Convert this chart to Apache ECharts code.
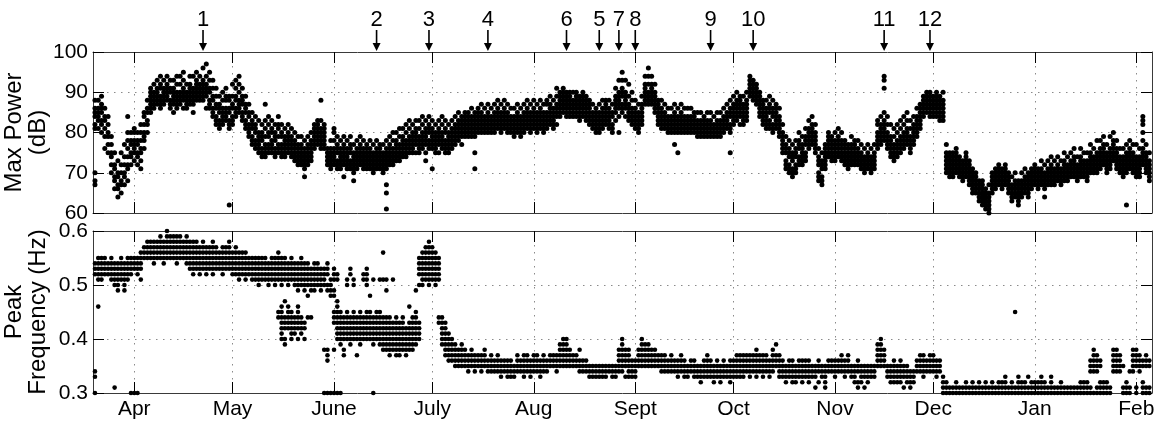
<!DOCTYPE html>
<html>
<head>
<meta charset="utf-8">
<script src="https://cdn.jsdelivr.net/npm/echarts@6/dist/echarts.min.js"></script>
<style>html,body{margin:0;padding:0;background:#fff;}#chart{width:1166px;height:421px;}</style>
</head>
<body>
<div id="chart"></div>
<script>
// x values are days since 1 April
const monthTickDays = [0, 30, 61, 91, 122, 153, 183, 214, 244, 275, 306];
const monthTickLabels = ['Apr', 'May', 'June', 'July', 'Aug', 'Sept', 'Oct', 'Nov', 'Dec', 'Jan', 'Feb'];
const powerTicks = [60, 70, 80, 90, 100];
const freqTicks = [0.3, 0.4, 0.5, 0.6];

const eventDays = [21, 74, 90, 108, 132, 142, 148, 153, 176, 189, 229, 243];
const eventLabels = ['1', '2', '3', '4', '6', '5', '7', '8', '9', '10', '11', '12'];

// first data day of each monthly block (days since 1 April)
const blockStartDays = [-12, 0, 30, 61, 91, 122, 153, 183, 214, 244, 275, 306];

// Max Power (dB): one list of readings per day
const powerMar = [[81,82,84,85,86,88,70,68,67],[81,83,84,85,86,88],[80,82,83,85,86,87,89],[79,81,83,84,86,76],[75,77,79,80,82,84],[70,72,74,75,77,79],[66,68,69,71,72,75],[64,66,67,69,70,73],[65,67,68,70,72,75],[67,69,70,72,74,77],[68,71,72,74,76,78,80,84],[72,74,75,77,78,80]];
const powerApr = [[73,75,76,77,78,80,81],[72,74,75,77,78,80],[71,73,75,76,78,80,82],[76,78,79,80,82,84,85],[80,82,83,85,86,88],[85,86,87,88,89,90,91],[86,87,88,89,90,92],[87,88,89,90,91,93],[86,87,88,89,91,92,94],[87,88,89,90,91,93],[88,89,90,91,92,94],[86,87,88,90,91,93],[85,87,88,89,90,91,93],[86,87,88,89,90,92,94],[87,88,89,90,92,94],[86,88,89,90,91,93,95],[86,87,88,89,90,92],[87,88,89,90,91,92,94],[85,87,88,89,90,91,94],[88,89,90,91,92,93,95],[88,89,90,91,92,94],[88,89,90,91,92,93,96],[86,89,90,91,92,94,97],[86,87,88,90,91,93,95],[84,85,86,88,89,91,93],[82,83,84,86,87,89,91],[81,82,83,85,86,87,89],[82,83,84,85,86,88,90],[83,84,85,86,88,89,91],[81,82,83,85,86,88,89,62]];
const powerMay = [[82,83,84,86,87,89,92],[84,85,86,88,89,91,93],[85,86,87,88,90,92,94],[83,84,85,87,88,89,91],[81,82,83,85,86,87,89],[79,80,81,82,84,85,87],[77,78,79,81,82,83,85],[76,77,78,80,81,82,84],[75,76,77,78,79,80,83],[74,75,76,78,79,80,82],[74,75,76,77,79,81,83,87],[75,76,77,79,80,82,84],[75,76,77,78,80,81,83],[74,75,76,78,79,80,82],[75,76,77,79,81,82,84],[74,75,76,77,79,80,82],[74,75,76,77,78,79,81],[75,76,77,78,79,80,82],[74,75,76,77,78,79,81],[73,74,75,76,77,78,80],[72,73,74,75,76,77,79],[72,73,74,75,76,77,79],[71,72,73,74,75,76,78,69],[72,73,74,75,76,77,79],[73,74,75,76,77,78,80],[76,77,78,79,80,81,82],[77,78,79,80,81,82,83],[76,77,78,79,80,81,83,88],[76,77,78,79,80,81,82],[72,73,74,75,76],[71,72,73,74,75,76,78]];
const powerJun = [[72,73,74,75,76,78,80,81],[71,72,73,75,76,77,79],[71,72,73,74,75,76,78],[72,73,74,75,76,77,79,69],[71,72,73,74,75,76,78],[71,72,73,75,76,77,79],[70,71,72,73,74,75,77,68],[71,72,73,74,75,76,78],[72,73,74,75,76,77,79],[71,72,73,74,75,76,78],[71,72,73,74,75,76,77],[71,72,73,74,75,76,78],[70,71,72,73,74,75,77],[71,72,73,74,75,76,78],[71,72,73,74,75,76,77],[70,71,72,73,74,75,77],[71,72,73,74,75,76,78,67,65,61],[72,73,74,75,76,77,79],[72,73,74,75,76,78,80],[73,74,75,76,77,78,80],[73,74,75,76,77,79,81],[74,75,76,77,78,79,81],[74,75,76,77,78,80,82],[75,76,77,78,79,81,83],[75,76,77,78,79,80,82],[75,77,78,79,80,81,83],[75,76,77,78,79,81,83],[76,77,78,79,80,82,84],[75,77,78,79,80,81,83,73],[76,77,78,80,81,82,84]];
const powerJul = [[76,77,78,79,80,81,83,71],[75,76,77,78,79,80,82],[75,77,78,79,80,81,83],[76,77,78,79,80,82,84],[75,76,77,78,80,81,83],[75,76,77,78,79,80,82],[76,77,78,79,80,81,83],[77,78,79,80,81,82,84],[78,79,80,81,82,83,85],[77,79,80,81,82,83,84],[79,80,81,82,83,84,85],[79,80,81,82,83,84,85],[79,80,81,82,83,84,86],[79,80,81,82,83,84,85,75,71],[80,81,82,83,84,85,86],[80,81,82,83,84,85,87],[80,81,82,83,84,86],[80,81,82,83,84,85,87],[80,81,82,83,84,86],[80,81,82,83,84,85,87],[81,82,83,84,85,86,88],[80,81,82,83,84,85,87],[81,82,83,84,85,86,88],[80,81,82,83,84,85,87],[80,81,82,83,84,86],[79,80,81,82,83,84,86],[80,81,82,83,84,85,87],[79,80,81,82,83,84,86],[80,81,82,83,84,85,87],[81,82,83,84,85,86,88],[80,81,82,83,84,85,87]];
const powerAug = [[81,82,83,84,85,86,88],[80,81,82,83,84,85,87],[81,82,83,84,85,86,88],[80,81,82,83,84,85,87],[81,82,83,84,85,87,88],[82,83,84,85,86,87,89],[81,82,83,84,85,86,88],[82,84,85,86,87,89,91],[84,85,86,87,88,89,90],[85,86,87,88,89,90,91],[84,85,86,87,88,89,90],[84,85,86,87,88,89,90],[84,85,86,87,88,90],[84,85,86,87,88,89,90],[83,84,85,86,87,88,89],[84,85,86,87,88,89,90],[83,84,85,86,87,88,89],[82,83,84,85,86,87,88],[81,82,83,84,85,87],[80,81,82,83,84,85,86],[80,81,82,83,84,85,87],[81,82,83,84,85,86,88],[82,83,84,85,86,87,88],[81,82,83,84,85,86,88],[80,81,82,84,85,87],[83,85,86,87,88,89,91],[84,86,87,88,89,90,93,80],[85,86,87,89,90,91,93,95],[84,86,87,88,89,90,93],[83,84,85,86,87,89,92],[82,83,84,85,86,88,90]];
const powerSep = [[81,82,83,84,85,86,88],[80,81,82,83,84,85,87],[82,83,84,85,86,87,89],[87,88,89,90,91,92,94],[87,88,89,90,92,94,96],[87,88,89,90,91,92,94],[85,86,87,88,89,90,92],[82,83,84,85,86,87,88],[81,82,83,84,85,86,88],[81,82,83,84,85,87],[80,81,82,83,84,86],[80,81,82,83,84,86],[80,81,82,83,84,85,87,77],[80,81,82,83,84,86,75],[80,81,82,83,84,85,87],[80,81,82,83,84,86],[80,81,82,83,84,86],[80,81,82,83,84,86],[80,81,82,83,84,85],[79,80,81,82,83,85],[79,80,81,82,83,85],[79,80,81,82,83,84],[79,80,81,82,83,85],[79,80,81,82,83,85],[79,80,81,82,84],[79,80,81,82,83,85],[79,80,81,82,83,85],[80,81,82,83,84,86],[81,82,83,84,85,87],[80,81,82,84,85,86,88,75]];
const powerOct = [[82,83,84,85,86,87,89],[83,84,85,86,87,88,90],[82,84,85,86,87,88,89],[82,83,84,85,86,87,89],[83,84,85,86,87,88,90],[89,90,91,92,93,94],[88,89,90,91,92,93],[87,88,89,90,91,92],[84,85,86,87,88,89,90],[82,83,84,85,86,87,88],[81,82,83,84,85,86,88],[81,82,83,85,86,87,89],[80,81,82,84,85,86,88],[81,82,83,84,85,86,87],[79,80,81,82,83,84,86],[75,76,77,78,79,80,82],[71,72,73,75,76,77,79],[70,71,72,74,75,76,78],[69,70,71,73,74,75,77],[70,71,72,74,75,76,78],[72,73,74,76,77,78,80],[72,73,74,75,76,77,79],[73,74,75,77,78,79,81],[76,77,78,79,80,81,83],[77,78,79,80,81,82,84],[75,76,77,78,79,80,82],[68,69,70,72,73,74,76],[67,68,69,71,72,73,75],[71,72,73,74,75,76,77],[74,75,76,77,78,79,80],[73,74,75,76,77,78,79]];
const powerNov = [[73,74,75,76,77,78,80],[74,75,76,77,78,79,81],[73,74,75,76,77,78,80],[72,73,74,75,76,77,78],[71,72,73,74,75,76,77],[72,73,74,75,76,77,79],[72,73,74,75,76,77,78],[72,73,74,75,76,78],[71,72,73,74,75,77],[70,71,72,73,74,76],[71,72,73,74,75,77],[70,71,72,73,74,76],[71,72,73,74,75,77],[76,77,78,79,80,82,83],[77,78,79,80,81,82,84],[78,79,80,81,82,83,85,91,93,94],[76,77,78,79,80,82,84],[74,75,76,77,78,79,82],[73,74,75,76,77,79,81],[74,75,76,77,78,80,82],[75,76,77,78,79,81,83],[76,77,78,79,80,82,84],[77,78,79,80,81,83,85],[75,76,77,78,79,81,83],[77,78,79,80,81,82,84],[79,80,81,82,83,84,86],[81,82,83,84,85,86,87],[84,85,86,87,88,89],[85,86,87,88,89,90],[84,85,86,87,88,89,90]];
const powerDec = [[84,85,86,87,88,89],[84,85,86,87,88,89,90],[83,84,85,86,87,88,89],[83,84,85,86,87,88,90],[70,71,72,73,74,75,77],[69,70,71,72,73,74,75],[69,70,71,72,73,74,75],[70,71,72,73,74,75,76],[69,70,71,72,73,74],[68,69,70,71,72,73],[69,70,71,72,73,74,75],[67,68,69,70,71,72,73],[65,66,67,68,69,70,71],[65,66,67,68,69,70],[63,64,65,66,67,68],[62,63,64,65,66,67,68],[61,62,63,64,65,66],[60,61,62,63,64,65,67],[65,66,67,68,69,70],[66,67,68,69,70,71],[67,68,69,70,71,72],[66,67,68,69,70,71],[67,68,69,70,71,72],[65,66,67,68,69,70],[63,64,65,66,67,69],[64,65,66,67,68,70],[62,63,64,65,66,67,68],[64,65,66,67,68,70],[65,66,67,68,69,71],[64,65,66,67,68,69,70],[66,67,68,69,70,71]];
const powerJan = [[67,68,69,70,71,72],[66,67,68,69,70,71],[67,68,69,70,71,73],[66,67,68,69,70,72,64],[67,68,69,70,71,73],[67,68,69,70,71,72,74],[67,68,69,70,71,73],[68,69,70,71,72,74],[67,68,69,70,71,73],[68,69,70,71,72,73,75],[68,69,70,71,72,74],[69,70,71,72,73,75],[69,70,71,72,73,74,76],[68,69,70,71,72,74],[69,70,71,72,73,74,76],[69,70,71,72,73,75],[68,69,70,71,72,73,75],[70,71,72,73,74,75,77],[70,71,72,73,74,76],[70,71,72,73,74,75,78],[71,72,73,74,75,76,78],[72,73,74,75,76,77,79],[70,71,72,73,74,75,77],[71,72,73,74,75,76,79],[73,74,75,76,77,78,80],[71,72,73,74,75,76,78],[70,71,72,73,74,76],[69,70,71,72,73,74,76],[70,71,72,73,74,75,77,62],[71,72,73,74,75,76,78],[70,71,72,73,74,75,77]];
const powerFeb = [[69,70,71,72,73,74,77],[69,70,71,72,73,74,76],[72,73,74,75,76,78,80,82,83,84],[70,71,72,73,74,75,77],[68,69,70,71,72,73,75]];

// Peak Frequency, in hundredths of a Hz: levels present each day
const freqMar = [[30,33,34,52,53,54],[51,52,53,54,55,46],[51,52,53,54,55],[52,53,54,55],[52,53,54],[51,52,53,54,55],[50,51,52,53,54,31],[49,50,51,52,53,54],[51,52,53,54,55],[49,50,51,52,53,54],[51,52,53,54,55],[52,53,54,55,30]];
const freqApr = [[53,54,55,30],[52,53,54,55,30],[51,53,54,55,56],[55,56,57],[55,56,57,58],[55,56,57,58],[54,55,56,57,58],[55,56,57,58],[55,56,57,58,59],[54,55,56,57,58],[55,56,57,58,59,60],[55,56,57,58,59],[55,56,57,58,59],[54,55,56,57,58,59],[55,56,57,58,59],[55,56,57,58],[54,55,56,57,58,59],[53,54,55,56,57,58],[52,53,54,55,56,57,58],[53,54,55,56,57,58],[52,53,54,55,56,57],[53,54,55,56,57,58],[52,53,54,55,56,57],[53,54,55,56,57],[52,53,54,55,56,57,58],[53,54,55,56,57],[53,54,55,56],[52,53,54,55,56,57],[53,54,55,56,57],[53,54,55,56,57,58]];
const freqMay = [[52,53,54,55,56],[52,53,54,55,56,57],[51,52,53,54,55,56],[52,53,54,55,56],[51,52,53,54,55,56],[52,53,54,55],[51,52,53,54,55],[51,52,53,54,55],[50,51,52,53,54,55],[51,52,53,54,55],[51,52,53,54,55],[50,51,52,53,54],[51,52,53,54,55],[50,51,52,53,54,55],[51,52,53,54,55,56,44,45],[50,51,52,53,54,55,40,41,42,43,44,45,46],[51,52,53,54,55,39,40,42,43,44,47],[50,51,52,53,54,42,43,44,45,46],[51,52,53,54,55,40,41,42,43,44,45],[50,51,52,53,54,41,42,43,44],[49,50,51,52,53,54,40,42,43,44,45,46],[50,51,52,53,54,55,41,42,43,44],[49,50,51,52,53,54,40,42,43],[48,50,51,52,53,54,44],[49,50,51,52,53,44],[49,50,51,52,53,54],[50,51,52,53,54],[49,50,51,52,53],[50,51,52,53,38,30],[49,50,52,53,54,36,37,38,30],[48,49,50,51,30]];
const freqJun = [[48,49,51,52,53,38,43,44,45,30],[51,52,40,41,42,43,44,45,46,47,30],[39,40,41,42,43,44,45,30],[40,41,42,43,44,38,37],[50,51,40,41,42,43,44,45],[52,53,39,40,41,42,43,44],[50,51,40,41,42,43,44,45],[40,41,42,43,44,37],[39,40,41,42,43,44,45],[51,52,40,41,42,43,44],[50,51,52,53,40,41,42,43,44,45],[40,41,42,43,44,45,48],[51,39,40,41,42,43,44,30],[40,41,42,43,44,45],[51,39,40,41,42,43,44,45],[51,56,38,39,40,41,42,43,44],[51,49,38,39,40,41,42,43,44],[37,38,39,40,41,42,43,44],[51,38,39,40,41,42,43],[37,38,39,40,41,42,43,44],[37,38,39,40,41,42,43],[38,39,40,41,42,43,44],[37,38,39,40,41,42],[38,39,40,41,42,43,46],[38,39,40,41,42,43,44],[39,40,41,42,43,44,45,49],[50,52,53,54,55,40,41,42,43],[50,51,52,53,54,55,56],[51,52,53,54,55,56,57],[50,51,52,53,54,55,56,57,58]];
const freqJul = [[51,52,53,54,55,56,57],[50,51,52,53,54,55,56],[51,52,53,54,55,44,43],[39,40,41,42,43,44],[37,38,39,40,41,42,43],[36,37,38,39,40,41],[36,37,38,39,40],[35,36,37,38,39],[35,36,37,38],[35,36,37,38,39],[35,36,37,38],[34,35,36,37],[35,36,37,38],[34,35,36,37],[35,36,37],[34,35,36,37],[35,36,37,38],[34,35,36],[34,35,36,37],[34,35,36],[34,35,36,37],[33,34,35,36],[34,35,36],[33,34,35,36],[33,34,35,36],[33,34,35],[34,35,36,37],[34,35,36],[33,34,35,36,37],[34,35,36,37],[33,34,35,36]];
const freqAug = [[34,35,36,37],[34,35,36,37],[33,34,35,36],[34,35,36,37],[34,35,36],[35,36,37],[35,36,37],[34,35,36,37],[35,36,37,38,39],[35,36,37,38,39,40],[35,36,37,38,39,40],[35,36,37,38],[35,36,37],[35,36,37],[34,35,36,38],[34,35,36],[34,35,36],[33,34,35],[33,34,35],[33,34,35],[33,34,35],[33,34,35],[33,34,35],[34,35],[33,34,35],[33,34,35],[34,35,36,37,38],[34,35,36,37,38,39,40],[33,35,36,37,38],[33,34,35,36,37,38],[33,34,35,36]];
const freqSep = [[33,34,35,36],[35,36,37,38],[35,36,37,38,39,40],[35,36,37,38,39],[35,36,37,38,39],[35,36,37,38],[35,36,37,38],[35,36,37],[34,35,36,37],[34,35,36,37],[34,35,36],[34,35,36,37],[34,35,36],[33,34,35,36],[34,35,36,37],[33,34,35,36],[33,34,35],[34,35,36],[33,34,35,36],[33,34,35],[32,33,34,35],[33,34,35,36],[33,34,35,36,37],[33,34,35,36],[32,33,34,35],[33,34,35,36],[32,33,34,35],[33,34,35,36],[33,34,35],[32,33,34,35,36]];
const freqOct = [[33,34,35,36],[33,34,35,36,37],[33,34,35,36,37],[33,34,35,36,37],[34,35,36,37],[33,34,35,36,37],[34,35,36,37],[33,34,35,36,37,38],[34,35,36,37],[33,34,35,36,37],[34,35,36,37],[33,34,35,36],[34,35,36,37,38],[35,36,37,39],[33,34,35,36,37],[33,34,35,36],[32,33,34,35],[33,34,35,36],[32,33,34,35,36],[32,33,34,35],[33,34,35,36],[32,33,34,35,36],[33,34,35,36],[32,33,34,35,36],[33,34,35],[33,34,35,31],[34,35,36,32],[34,35,33],[33,34,35,32,31],[34,35,36],[34,35,36]];
const freqNov = [[33,34,35,36],[34,35,36],[34,35,36,37],[33,34,35,36],[34,35,36,37],[33,34,35],[33,34,35,32],[34,35,36,32,31],[33,34,35,32],[33,34,35,31],[34,35,33,32],[34,35,33],[33,34,35],[35,36,37,38,39],[35,36,37,38,39,40],[35,36,37,38],[33,34,35],[33,34,35,32],[32,33,34,35,36],[33,34,35,32],[32,33,34,35,36],[33,34,35,31],[33,34,35,32],[32,33,34,31],[32,33,34],[34,35,36],[34,35,36,37],[33,34,35,36,37],[34,35,36],[34,35,36,37]];
const freqDec = [[34,35,36,37],[34,35,36,33],[34,35,36],[30,31,32,33],[30,31,32],[30,31],[30,31],[30,31,32],[30,31],[30,31],[30,31,32],[30,31],[30,31,32],[30,31],[30,31,32],[30,31],[30,31,32],[30,31],[30,31,32],[30,31],[30,31,32],[30,31,32],[30,31,32,33],[30,31],[30,31,32],[30,31,45],[30,31,32,33],[30,31,32],[30,31,32],[30,31,33],[30,31,32]];
const freqJan = [[30,31,32],[30,31,32],[30,31,32,33],[30,31,32],[30,31],[30,31,32,33],[30,31],[30,31],[30,31,32],[30,31],[30,31],[30,31],[30,31],[30,31],[30,31,32],[30,31,32],[30,31,32],[30,31,34,35,36],[30,34,35,36,37,38],[30,31,34,35,36,37],[30,31,32,35,36],[30,31,32],[30,31,32],[30,31],[34,35,36,37,38],[34,35,36,37,38],[34,35,36,37],[30,31,35],[30,31,32],[30,31,34],[34,35,36,37,38]];
const freqFeb = [[30,31,35,36,37,38],[34,35,36,37],[30,31,32,35,36],[30,31,35,36,37],[30,31,35,36]];

const powerBlocks = [powerMar, powerApr, powerMay, powerJun, powerJul, powerAug, powerSep, powerOct, powerNov, powerDec, powerJan, powerFeb];
const freqBlocks = [freqMar, freqApr, freqMay, freqJun, freqJul, freqAug, freqSep, freqOct, freqNov, freqDec, freqJan, freqFeb];

function toPoints(blocks, scale) {
  const out = [];
  blocks.forEach((block, b) => {
    block.forEach((vals, i) => {
      vals.forEach(v => out.push([blockStartDays[b] + i, v / scale]));
    });
  });
  return out;
}

const FONT = "'Liberation Sans', Arial, Helvetica, sans-serif";
const X_MIN = -12.6, X_MAX = 310.8;
const frameColor = '#3a3a3a';
const gridLine = { show: true, lineStyle: { color: '#8a8a8a', width: 1, type: [1.5, 5.5] } };

function xAxis(grid, pos, showLabels, showSplit) {
  return {
    type: 'value', gridIndex: grid, position: pos, min: X_MIN, max: X_MAX,
    axisLine: { show: true, onZero: false, lineStyle: { color: frameColor, width: 1 } },
    axisTick: { show: true, inside: true, length: 11, customValues: monthTickDays, lineStyle: { color: '#000', width: 1 } },
    axisLabel: {
      show: showLabels, customValues: monthTickDays, margin: 6,
      fontFamily: FONT, fontSize: 21, color: '#000',
      formatter: v => monthTickLabels[monthTickDays.indexOf(Math.round(v))] || ''
    },
    splitLine: showSplit ? gridLine : { show: false }
  };
}
function yAxis(grid, pos, min, max, interval, main, name, fmt) {
  return {
    type: 'value', gridIndex: grid, position: pos, min: min, max: max, interval: interval,
    axisLine: { show: true, onZero: false, lineStyle: { color: frameColor, width: 1 } },
    axisTick: { show: true, inside: true, length: 11, lineStyle: { color: '#000', width: 1 } },
    axisLabel: { show: main, fontFamily: FONT, fontSize: 21, color: '#000', margin: 5, formatter: fmt },
    splitLine: main ? gridLine : { show: false },
    name: main ? name : '', nameLocation: 'middle', nameGap: 43, nameRotate: 90, nameMoveOverlap: false,
    nameTextStyle: { fontFamily: FONT, fontSize: 24, color: '#000', lineHeight: 24 }
  };
}

const chart = echarts.init(document.getElementById('chart'), null, { renderer: 'canvas' });
chart.setOption({
  backgroundColor: '#fff',
  animation: false,
  grid: [
    { left: 93, top: 52, width: 1059, height: 161, containLabel: false, outerBoundsMode: 'none' },
    { left: 93, top: 231, width: 1059, height: 162, containLabel: false, outerBoundsMode: 'none' }
  ],
  xAxis: [
    xAxis(0, 'bottom', false, true),
    xAxis(0, 'top', false, false),
    xAxis(1, 'bottom', true, true),
    xAxis(1, 'top', false, false)
  ],
  yAxis: [
    yAxis(0, 'left', powerTicks[0], powerTicks[powerTicks.length - 1], 10, true, 'Max Power\n(dB)', v => String(v)),
    yAxis(0, 'right', powerTicks[0], powerTicks[powerTicks.length - 1], 10, false, '', v => String(v)),
    yAxis(1, 'left', freqTicks[0], freqTicks[freqTicks.length - 1], 0.1, true, 'Peak\nFrequency (Hz)', v => v.toFixed(1)),
    yAxis(1, 'right', freqTicks[0], freqTicks[freqTicks.length - 1], 0.1, false, '', v => v.toFixed(1))
  ],
  series: [
    {
      type: 'scatter', xAxisIndex: 0, yAxisIndex: 0, symbol: 'circle', symbolSize: 5,
      itemStyle: { color: '#000', opacity: 1 }, silent: true, large: false,
      data: toPoints(powerBlocks, 1)
    },
    {
      type: 'scatter', xAxisIndex: 2, yAxisIndex: 2, symbol: 'circle', symbolSize: 4.6,
      itemStyle: { color: '#000', opacity: 1 }, silent: true, large: false,
      data: toPoints(freqBlocks, 100)
    },
    {
      type: 'scatter', xAxisIndex: 0, yAxisIndex: 0, clip: false, silent: true, z: 10,
      symbol: 'path://M3.2,0 L4.8,0 L4.8,13 L8,13 L4,21 L0,13 L3.2,13 Z',
      symbolSize: [8, 21], symbolOffset: [0, -11.5],
      itemStyle: { color: '#000', opacity: 1 },
      label: { show: true, position: 'top', distance: -1, fontFamily: FONT, fontSize: 22, color: '#000', formatter: p => p.data[2] },
      data: eventDays.map((d, i) => [d, powerTicks[powerTicks.length - 1], eventLabels[i]])
    }
  ]
});
</script>
</body>
</html>
